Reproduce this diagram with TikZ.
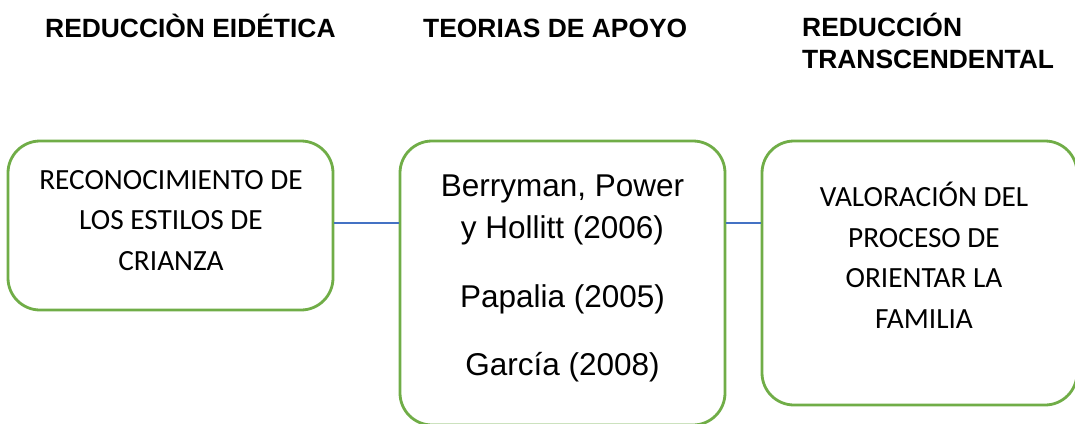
\documentclass[tikz,border=0pt]{standalone}
\usepackage{fontspec}
\setmainfont{Liberation Sans}
\newfontfamily\calibrifont{Carlito}
\definecolor{boxgreen}{HTML}{70AD47}
\definecolor{linkblue}{HTML}{4472C4}
\tikzset{
  stagebox/.style={draw=boxgreen, line width=2.8pt, rounded corners=32pt, fill=white, inner sep=0pt},
  link/.style={draw=linkblue, line width=1.3pt},
  headtext/.style={inner sep=0pt, anchor=base west, align=left, font=\fontsize{26.4}{31.5}\selectfont\bfseries},
  caltext/.style={inner sep=0pt, anchor=base, align=center, font=\calibrifont\fontsize{29.3}{40.5}\selectfont},
  arialtext/.style={inner sep=0pt, anchor=base, align=center, font=\fontsize{31.5}{42}\selectfont}
}
\begin{document}
\begin{tikzpicture}[x=1pt, y=-1pt]
\useasboundingbox (0,0) rectangle (1075,423);
\fill[white] (0,0) rectangle (1075,423);
% headers (base anchor = baseline of the last line)
\node[headtext] (h1) at (45,37) {REDUCCIÒN EIDÉTICA};
\node[headtext] (h2) at (423,37) {TEORIAS DE APOYO};
\node[headtext] (h3) at (802,68) {REDUCCIÓN\\TRANSCENDENTAL};
% boxes
\node[stagebox, minimum width=325pt, minimum height=169pt] (b1) at (170.5,225.5) {};
\node[stagebox, minimum width=325pt, minimum height=284pt] (b2) at (562.5,283) {};
\node[stagebox, minimum width=315pt, minimum height=264pt] (b3) at (919.5,273) {};
% connectors
\path (b1.east) ++(0,-2.5) coordinate (l1);
\draw[link] (l1) -- (l1 -| b2.west);
\draw[link] (b2.east |- l1) -- (b3.west |- l1);
% texts
\node[caltext] (t1) at (171,270) {RECONOCIMIENTO DE\\LOS ESTILOS DE\\CRIANZA};
\node[arialtext] (t2) at (562.5,375) {Berryman, Power\\y Hollitt (2006)\\[27pt]Papalia (2005)\\[26pt]García (2008)};
\node[caltext] (t3) at (924,328) {VALORACIÓN DEL\\PROCESO DE\\ORIENTAR LA\\FAMILIA};
\end{tikzpicture}
\end{document}
